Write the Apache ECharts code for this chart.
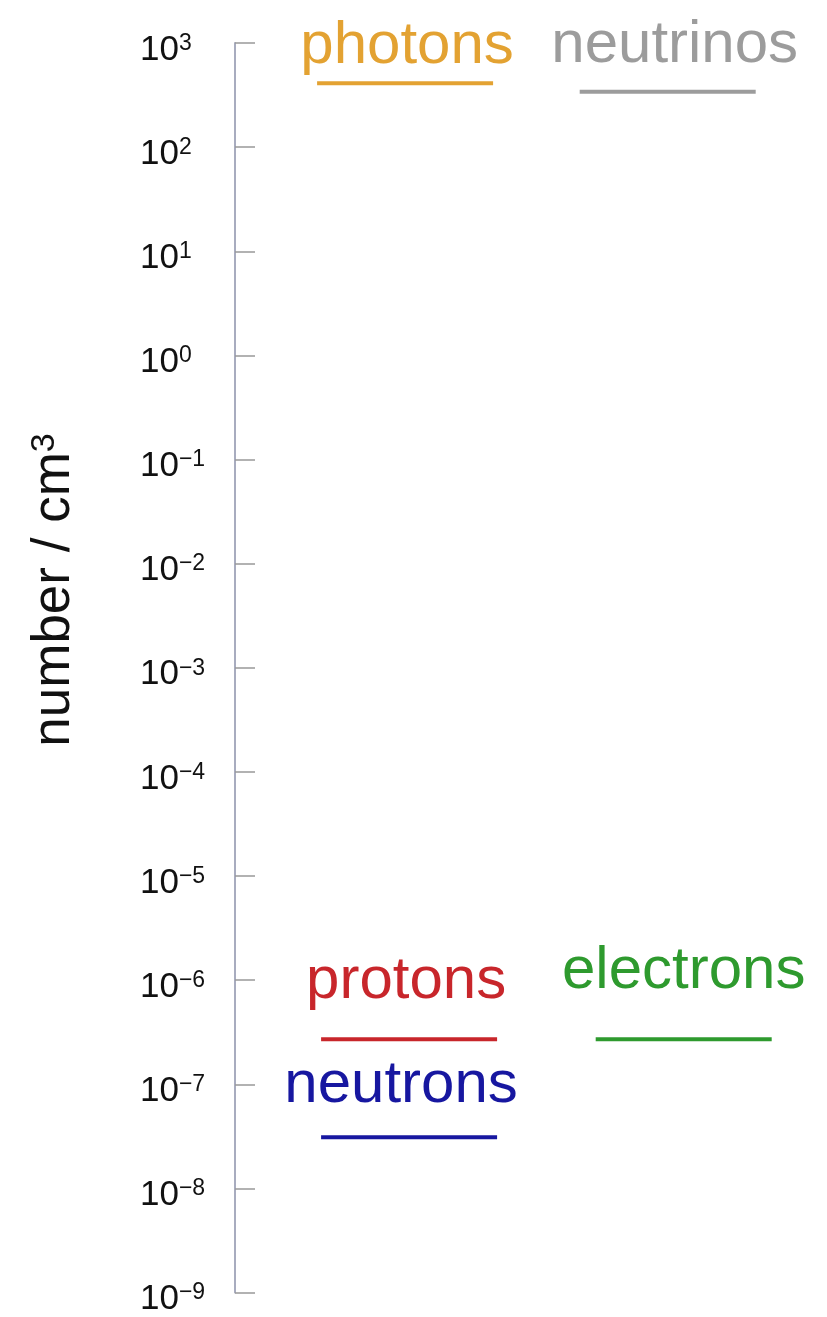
<!DOCTYPE html>
<html>
<head>
<meta charset="utf-8">
<script src="https://cdn.jsdelivr.net/npm/echarts@6/dist/echarts.min.js"></script>
<style>
html,body{margin:0;padding:0;background:#ffffff;}
#chart{width:827px;height:1317px;}
</style>
</head>
<body>
<div id="chart"></div>
<script>
// ---- data ----
const species = ['photons', 'neutrinos', 'protons', 'electrons', 'neutrons'];
const densities = [411, 340, 2.7e-7, 2.7e-7, 3.1e-8];   // number per cm^3
const columns = [0, 1, 0, 1, 0];                          // which column each species sits in
const tickExponents = [3, 2, 1, 0, -1, -2, -3, -4, -5, -6, -7, -8, -9];
const axisTitle = 'number / cm';
const axisTitleSup = '3';

// ---- styles / layout (not data) ----
const colors = {
  photons: '#E3A232',
  neutrinos: '#9C9C9C',
  protons: '#C8262B',
  electrons: '#2E9A2E',
  neutrons: '#1717A0'
};
const symbolShift = { photons: -4, neutrinos: -8, protons: 0, electrons: 8, neutrons: 0 };
const labelShift = {
  photons: [2, -37],
  neutrinos: [7, -46],
  protons: [-3, -58],
  electrons: [0, -68],
  neutrons: [-8, -52]
};
const FONT = '"Liberation Sans", Arial, Helvetica, sans-serif';

const chart = echarts.init(document.getElementById('chart'), null, { renderer: 'canvas' });

const seriesData = species.map((name, i) => ({
  name: name,
  value: [columns[i], densities[i]],
  symbolOffset: [symbolShift[name], 0],
  itemStyle: { color: colors[name], opacity: 1 },
  label: {
    show: true,
    position: 'inside',
    offset: labelShift[name],
    formatter: name,
    color: colors[name],
    fontSize: 60,
    fontFamily: FONT
  }
}));

const option = {
  backgroundColor: '#ffffff',
  animation: false,
  grid: { left: 235, right: 18, top: 43, bottom: 14 },
  xAxis: {
    type: 'value',
    min: -0.653,
    max: 1.5,
    show: false
  },
  yAxis: {
    type: 'log',
    logBase: 10,
    min: 1e-9,
    max: 1e3,
    interval: 1,
    splitLine: { show: false },
    axisLine: { show: true, onZero: false, lineStyle: { color: '#A8ACBF', width: 2 } },
    axisTick: { show: true, inside: true, length: 20, lineStyle: { color: '#999999', width: 1.5 } },
    axisLabel: {
      show: true,
      align: 'left',
      margin: 95,
      padding: [14, 0, 0, 0],
      formatter: function (v) {
        const e = Math.round(Math.log10(v));
        const s = e < 0 ? '\u2212' + Math.abs(e) : String(e);
        return '{b|10}{s|' + s + '}';
      },
      rich: {
        b: { fontSize: 35, lineHeight: 36, color: '#111111', fontFamily: FONT },
        s: { fontSize: 23, lineHeight: 24, color: '#111111', fontFamily: FONT, verticalAlign: 'top' }
      }
    }
  },
  graphic: [{
    type: 'text',
    x: 54,
    y: 590,
    rotation: Math.PI / 2,
    style: {
      text: axisTitle + '{s|' + axisTitleSup + '}',
      fill: '#111111',
      font: '53px ' + FONT,
      align: 'center',
      verticalAlign: 'middle',
      rich: {
        s: { fontSize: 34, fontFamily: FONT, fill: '#111111', verticalAlign: 'top', lineHeight: 30 }
      }
    }
  }],
  series: [{
    type: 'scatter',
    symbol: 'rect',
    symbolSize: [176, 4],
    data: seriesData,
    z: 3
  }]
};

chart.setOption(option);
</script>
</body>
</html>
